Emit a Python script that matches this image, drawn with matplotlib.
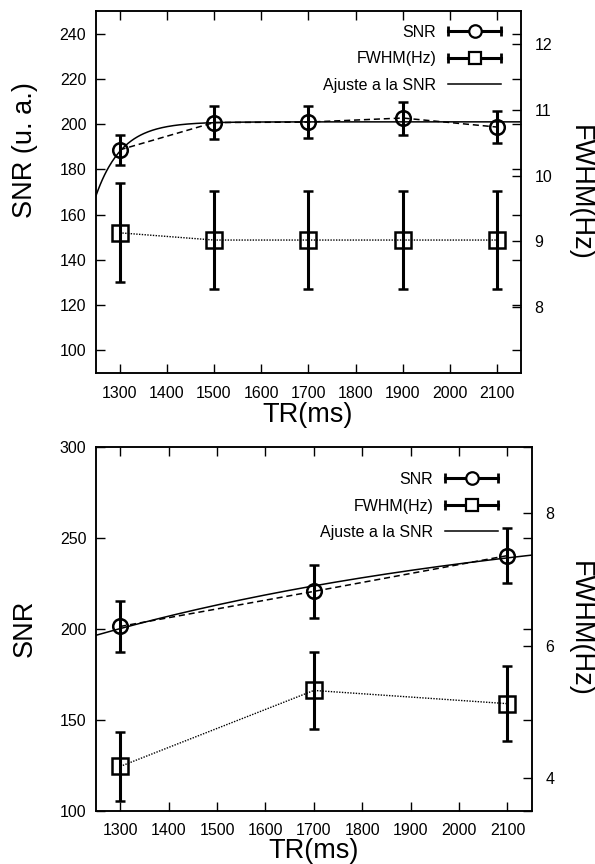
import numpy as np
import matplotlib
matplotlib.use("Agg")
import matplotlib.pyplot as plt
from matplotlib.lines import Line2D
from matplotlib.legend_handler import HandlerBase

plt.rcParams["font.family"] = ["Liberation Sans", "DejaVu Sans"]

# ---- upper panel data ----
tr_top = [1300, 1500, 1700, 1900, 2100]
snr_top = [188.6, 200.7, 200.9, 202.7, 198.7]
snr_top_err = [6.8, 7.2, 7.2, 7.3, 7.0]
fwhm_top = [9.13, 9.02, 9.02, 9.02, 9.02]
fwhm_top_err = [0.75, 0.75, 0.75, 0.75, 0.75]
# saturation-recovery fit: A * (1 - exp(-(TR - t0) / T))
fit_top = dict(A=201.0, t0=1150.0, T=55.0)

# ---- lower panel data ----
tr_bot = [1300, 1700, 2100]
snr_bot = [201.4, 220.7, 240.4]
snr_bot_err = [14.0, 14.7, 15.3]
fwhm_bot = [4.17, 5.32, 5.12]
fwhm_bot_err = [0.52, 0.58, 0.57]
fit_bot = dict(A=268.6, t0=0.0, T=950.0)

xticks = [1300, 1400, 1500, 1600, 1700, 1800, 1900, 2000, 2100]

TICK_FS = 11.5
LABEL_FS = 19.5
W, H = 595, 864


def fit_curve(x, A, t0, T):
    return A * (1.0 - np.exp(-(x - t0) / T))


class HandlerHErr(HandlerBase):
    """Horizontal error-bar legend key with a hollow marker in the middle."""

    def __init__(self, marker, ms):
        super().__init__()
        self.marker = marker
        self.ms = ms

    def create_artists(self, legend, orig_handle, xdescent, ydescent,
                       width, height, fontsize, trans):
        y = height / 2 - ydescent
        x0, x1 = -xdescent, -xdescent + width
        bar = Line2D([x0, x1], [y, y], color="k", lw=2.2, transform=trans)
        caps = Line2D([x0, x1], [y, y], ls="none", marker="|", ms=7,
                      mew=2.0, color="k", transform=trans)
        mk = Line2D([(x0 + x1) / 2], [y], ls="none", marker=self.marker,
                    ms=self.ms, mfc="white", mec="k", mew=1.6,
                    transform=trans)
        return [bar, caps, mk]


def panel(rect, tr, snr, snr_err, fwhm, fwhm_err, fit, ylim, yticks,
          y2lim, y2ticks, legend_anchor):
    ax = fig.add_axes(rect)
    ax2 = ax.twinx()

    xs = np.linspace(1250, 2150, 400)
    ax.plot(xs, fit_curve(xs, **fit), color="k", lw=1.1, zorder=2)
    ax.plot(tr, snr, color="k", lw=1.1, ls=(0, (4, 2.5)), zorder=2)
    ax.errorbar(tr, snr, yerr=snr_err, fmt="o", ms=10.5, mfc="none",
                mec="k", mew=1.8, ecolor="k", elinewidth=2.2, capsize=3.8,
                capthick=2.0, zorder=3)

    ax2.plot(tr, fwhm, color="k", lw=1.0, ls=(0, (1, 1)), zorder=2)
    ax2.errorbar(tr, fwhm, yerr=fwhm_err, fmt="s", ms=11, mfc="none",
                 mec="k", mew=1.8, ecolor="k", elinewidth=2.2,
                 capsize=3.8, capthick=2.0, zorder=3)

    ax.set_xlim(1250, 2150)
    ax.set_ylim(*ylim)
    ax.set_yticks(yticks)
    ax.set_xticks(xticks)
    ax2.set_ylim(*y2lim)
    ax2.set_yticks(y2ticks)

    ax.tick_params(axis="both", direction="in", length=6.5, width=1.0,
                   labelsize=TICK_FS, top=True, right=True, pad=7)
    ax.tick_params(axis="x", pad=9)
    ax2.tick_params(axis="y", direction="in", length=6.5, width=1.0,
                    labelsize=TICK_FS, pad=10)
    for a in (ax, ax2):
        for s in a.spines.values():
            s.set_linewidth(1.1)

    h_snr = Line2D([], [], color="k")
    h_fwhm = Line2D([], [], color="k")
    h_fit = Line2D([], [], color="k", lw=1.1)
    ax2.legend([h_snr, h_fwhm, h_fit],
               ["SNR", "FWHM(Hz)", "Ajuste a la SNR"],
               handler_map={h_snr: HandlerHErr("o", 9),
                            h_fwhm: HandlerHErr("s", 9)},
               loc="upper right", bbox_to_anchor=legend_anchor,
               bbox_transform=fig.transFigure, frameon=False,
               markerfirst=False, fontsize=TICK_FS, handlelength=3.3,
               handletextpad=0.75, labelspacing=0.72, borderpad=0,
               borderaxespad=0)
    return ax, ax2


fig = plt.figure(figsize=(W / 100, H / 100), dpi=100)

# upper panel
panel([96 / W, 1 - 373 / H, 424.7 / W, 362 / H],
      tr_top, snr_top, snr_top_err, fwhm_top, fwhm_top_err, fit_top,
      (90, 250), [100, 120, 140, 160, 180, 200, 220, 240],
      (7, 12.5), [8, 9, 10, 11, 12],
      (501 / W, 1 - 25 / H))
fig.text(25 / W, 1 - 150 / H, "SNR (u. a.)", rotation=90, ha="center",
         va="center", fontsize=LABEL_FS)
fig.text(580 / W, 1 - 193 / H, "FWHM(Hz)", rotation=-90, ha="center",
         va="center", fontsize=LABEL_FS)
fig.text(308 / W, 1 - 415 / H, "TR(ms)", ha="center", va="center",
         fontsize=LABEL_FS)

# lower panel
panel([96 / W, 1 - 810.7 / H, 435.7 / W, 363.4 / H],
      tr_bot, snr_bot, snr_bot_err, fwhm_bot, fwhm_bot_err, fit_bot,
      (100, 300), [100, 150, 200, 250, 300],
      (3.5, 9), [4, 6, 8],
      (498 / W, 1 - 472 / H))
fig.text(25 / W, 1 - 628 / H, "SNR", rotation=90, ha="center",
         va="center", fontsize=LABEL_FS)
fig.text(580 / W, 1 - 629 / H, "FWHM(Hz)", rotation=-90, ha="center",
         va="center", fontsize=LABEL_FS)
fig.text(314 / W, 1 - 851 / H, "TR(ms)", ha="center", va="center",
         fontsize=LABEL_FS)

fig.savefig("out.png", dpi=100)
